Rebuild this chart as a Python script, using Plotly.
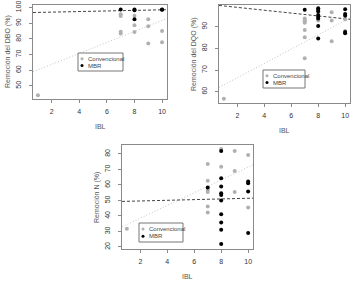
import plotly.graph_objects as go

# ---------------- data ----------------
# Panel 1: DBO removal
dbo_conv_x = [1, 7, 7, 7, 7, 8, 8, 8, 9, 9, 9, 10, 10]
dbo_conv_y = [44, 95.7, 94.5, 84.5, 83.4, 94.7, 88.7, 84.3, 92.5, 88, 77, 85, 77.9]
dbo_mbr_x = [7, 8, 8, 8, 10, 10]
dbo_mbr_y = [98.7, 98.7, 98.2, 92.5, 98.7, 98.5]
dbo_conv_trend = [59.0, 93.0]   # values of grey trend at x-range ends
dbo_mbr_trend = [96.8, 98.6]

# Panel 2: DQO removal
dqo_conv_x = [1, 7, 7, 7, 7, 7, 7, 7, 8, 9, 9, 9, 10, 10]
dqo_conv_y = [56.8, 93.8, 93.0, 92.3, 91.8, 88.5, 85.1, 75.4, 92.8, 96.6, 92.8, 83.3, 93.4, 88.0]
dqo_mbr_x = [7, 8, 8, 8, 8, 8, 8, 8, 8, 10, 10, 10, 10, 10]
dqo_mbr_y = [97.8, 98.5, 97.7, 97.0, 95.4, 94.6, 93.8, 90.3, 84.6, 98.0, 95.8, 95.0, 87.5, 87.0]
dqo_conv_trend = [62.0, 94.0]
dqo_mbr_trend = [99.8, 93.4]

# Panel 3: N removal
n_conv_x = [1, 7, 7, 7, 7, 7, 7, 8, 8, 9, 9, 9, 10, 10]
n_conv_y = [31.8, 73.6, 62.8, 56.8, 55.4, 46.1, 42.3, 83.2, 71.8, 82.0, 69.0, 55.4, 79.4, 45.5]
n_mbr_x = [7, 8, 8, 8, 8, 8, 8, 8, 8, 8, 8, 10, 10, 10, 10]
n_mbr_y = [58.3, 82.0, 64.4, 59.0, 54.7, 53.6, 50.0, 41.2, 35.8, 31.1, 22.0, 62.2, 61.2, 55.8, 29.0]
n_conv_trend = [33.0, 73.0]
n_mbr_trend = [49.4, 51.5]

x_range = [0.64, 10.36]
x_ticks = [2, 4, 6, 8, 10]
dbo_ticks = [50, 60, 70, 80, 90, 100]
dqo_ticks = [60, 70, 80, 90]
n_ticks = [20, 30, 40, 50, 60, 70, 80]

y_titles = ["Remoción del DBO (%)", "Remoción del DQO (%)", "Remoción N (%)"]
x_title = "IBL"
legend_names = ["Convencional", "MBR"]

# ---------------- figure ----------------
W, H = 354, 284
GREY = "#b0b0b0"
FONT = "Liberation Sans, Arial, sans-serif"
TXT = "#555555"

panels = [
    dict(cx=dbo_conv_x, cy=dbo_conv_y, mx=dbo_mbr_x, my=dbo_mbr_y,
         ct=dbo_conv_trend, mt=dbo_mbr_trend, yr=[41.6, 101.6], yt=dbo_ticks,
         px=(33, 167), py=(5, 99), leg=(78, 53, 123, 71)),
    dict(cx=dqo_conv_x, cy=dqo_conv_y, mx=dqo_mbr_x, my=dqo_mbr_y,
         ct=dqo_conv_trend, mt=dqo_mbr_trend, yr=[54.8, 100.0], yt=dqo_ticks,
         px=(219, 350), py=(5, 103), leg=(263, 70, 305, 88)),
    dict(cx=n_conv_x, cy=n_conv_y, mx=n_mbr_x, my=n_mbr_y,
         ct=n_conv_trend, mt=n_mbr_trend, yr=[18.7, 85.8], yt=n_ticks,
         px=(122, 253), py=(145, 249), leg=(139, 223, 183, 242)),
]

fig = go.Figure()
shapes = []
annotations = []

for i, p in enumerate(panels):
    sfx = "" if i == 0 else str(i + 1)
    xa, ya = "x" + sfx, "y" + sfx
    fig.add_trace(go.Scatter(x=x_range, y=p["ct"], mode="lines", xaxis=xa, yaxis=ya,
                             line=dict(color="#c4c4c4", width=1, dash="1px,2px"),
                             showlegend=False, hoverinfo="skip"))
    fig.add_trace(go.Scatter(x=x_range, y=p["mt"], mode="lines", xaxis=xa, yaxis=ya,
                             line=dict(color="#444444", width=1, dash="3px,2px"),
                             showlegend=False, hoverinfo="skip"))
    fig.add_trace(go.Scatter(x=p["cx"], y=p["cy"], mode="markers", xaxis=xa, yaxis=ya,
                             name=legend_names[0], showlegend=False,
                             marker=dict(color=GREY, size=4, line=dict(width=0))))
    fig.add_trace(go.Scatter(x=p["mx"], y=p["my"], mode="markers", xaxis=xa, yaxis=ya,
                             name=legend_names[1], showlegend=False,
                             marker=dict(color="black", size=4, line=dict(width=0))))

    x0, x1 = p["px"]
    y0, y1 = p["py"]
    axis_common = dict(showgrid=False, zeroline=False, showline=True, mirror=True,
                       automargin=False,
                       linecolor="#8a8a8a", linewidth=1, ticks="outside", ticklen=3,
                       tickcolor="#8a8a8a", tickfont=dict(size=7, color="#333333", family=FONT))
    fig.layout["xaxis" + sfx] = dict(
        domain=[x0 / W, x1 / W], range=x_range, tickvals=x_ticks, anchor=ya,
        ticklabelstandoff=3, **axis_common)
    fig.layout["yaxis" + sfx] = dict(
        domain=[1 - y1 / H, 1 - y0 / H], range=p["yr"], tickvals=p["yt"], anchor=xa,
        tickangle=-90, ticklabelstandoff=5, **axis_common)

    # axis titles
    annotations.append(dict(text=y_titles[i], x=(x0 - 25) / W, y=1 - ((y0 + y1) / 2) / H,
                            xref="paper", yref="paper", showarrow=False, textangle=-90,
                            font=dict(size=7, color=TXT, family=FONT),
                            xanchor="center", yanchor="middle"))
    annotations.append(dict(text=x_title, x=((x0 + x1) / 2) / W, y=1 - (y1 + 27) / H,
                            xref="paper", yref="paper", showarrow=False,
                            font=dict(size=7, color=TXT, family=FONT),
                            xanchor="center", yanchor="middle"))

    # legend box
    lx0, ly0, lx1, ly1 = p["leg"]
    shapes.append(dict(type="rect", xref="paper", yref="paper",
                       x0=lx0 / W, x1=lx1 / W, y0=1 - ly1 / H, y1=1 - ly0 / H,
                       line=dict(color="#777777", width=1), fillcolor="white"))
    rows = [ly0 + (ly1 - ly0) * 0.32, ly0 + (ly1 - ly0) * 0.70]
    for j, (nm, col) in enumerate(zip(legend_names, [GREY, "black"])):
        cy = 1 - rows[j] / H
        shapes.append(dict(type="circle", xref="paper", yref="paper",
                           xsizemode="pixel", ysizemode="pixel",
                           xanchor=(lx0 + 4) / W, yanchor=cy,
                           x0=-1.5, x1=1.5, y0=-1.5, y1=1.5,
                           fillcolor=col, line=dict(width=0)))
        annotations.append(dict(text=nm, x=(lx0 + 8) / W, y=cy, xref="paper", yref="paper",
                                showarrow=False, xanchor="left", yanchor="middle",
                                font=dict(size=6, color="#444444", family=FONT)))

fig.update_layout(template="none", width=W, height=H, margin=dict(l=0, r=0, t=0, b=0, pad=0),
                  paper_bgcolor="white", plot_bgcolor="white",
                  shapes=shapes, annotations=annotations, showlegend=False)

fig.write_html("out.html", config={"displayModeBar": False},
               post_script="document.body.style.margin='0';document.body.style.overflow='hidden';")
